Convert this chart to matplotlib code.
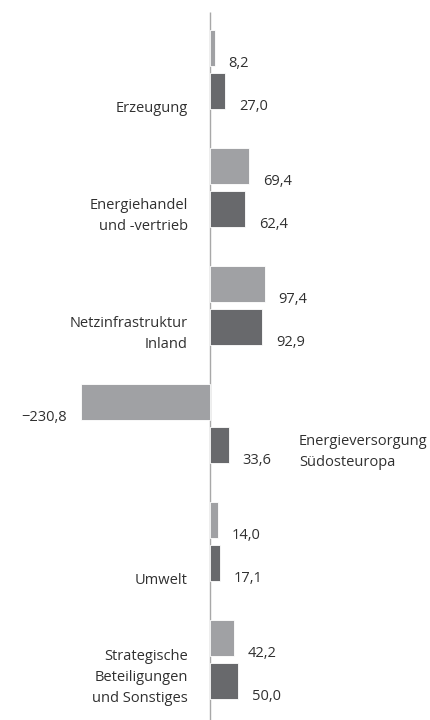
import matplotlib
matplotlib.use("Agg")
import matplotlib.pyplot as plt

# data
categories = ["Erzeugung",
              "Energiehandel\nund -vertrieb",
              "Netzinfrastruktur\nInland",
              "Energieversorgung\nSüdosteuropa",
              "Umwelt",
              "Strategische\nBeteiligungen\nund Sonstiges"]
values_prev = [8.2, 69.4, 97.4, -230.8, 14.0, 42.2]
values_curr = [27.0, 62.4, 92.9, 33.6, 17.1, 50.0]
# categories whose label sits on the right of the axis
label_right = [False, False, False, True, False, False]

light = "#a0a1a4"
dark = "#68696c"
text_color = "#303030"

plt.rcParams["font.family"] = ["Open Sans", "DejaVu Sans"]

fig = plt.figure(figsize=(4.31, 7.2), dpi=100)
ax = fig.add_axes([0, 0, 1, 1])

# layout in px, converted to data units
px_unit = 0.56           # px per value unit
x_zero = 210
group_px = 118
ax.set_xlim(-x_zero / px_unit, (431 - x_zero) / px_unit)
ax.set_ylim((720 - 69.5) / group_px, -69.5 / group_px)

bar_h = 36 / group_px
off = 21.5 / group_px
pos = list(range(len(categories)))

ax.vlines(0, (12 - 69.5) / group_px, (720 - 69.5) / group_px,
          color="#a8a8a8", lw=1.0, zorder=1)

ax.barh([p - off for p in pos], values_prev, height=bar_h, color=light,
        zorder=2, edgecolor="white", linewidth=0.6)
ax.barh([p + off for p in pos], values_curr, height=bar_h, color=dark,
        zorder=2, edgecolor="white", linewidth=0.6)


def fmt(v):
    s = f"{abs(v):.1f}".replace(".", ",")
    return ("\u2212" + s) if v < 0 else s


fs = 10.5
for i, p in enumerate(pos):
    for v, y in ((values_prev[i], p - off), (values_curr[i], p + off)):
        yb = y + bar_h / 2
        ax.annotate(fmt(v), (v, yb), xytext=(10 if v >= 0 else -10, 2),
                    textcoords="offset points", ha="left" if v >= 0 else "right",
                    va="center", fontsize=fs, color=text_color)
    yb = p + off + bar_h / 2
    if label_right[i]:
        ax.annotate(categories[i], (0, yb), xytext=(64, -5),
                    textcoords="offset points", ha="left", va="bottom",
                    fontsize=fs, color=text_color, linespacing=1.55)
    else:
        ax.annotate(categories[i], (0, yb), xytext=(-16, -5),
                    textcoords="offset points", ha="right", va="bottom",
                    fontsize=fs, color=text_color, linespacing=1.55,
                    multialignment="right")

ax.axis("off")
fig.savefig("out.png", dpi=100, facecolor="white")
